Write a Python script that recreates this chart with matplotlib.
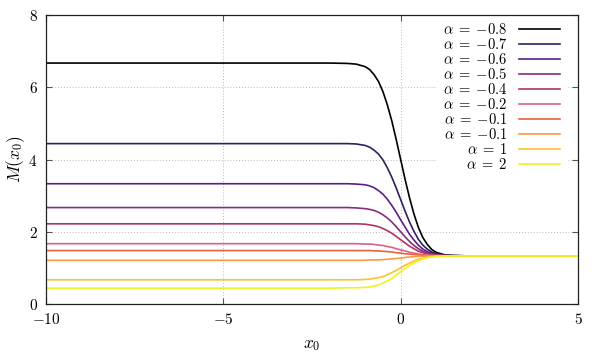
import matplotlib
matplotlib.use("Agg")
import matplotlib.pyplot as plt

plt.rcParams['mathtext.fontset'] = 'cm'
plt.rcParams['font.family'] = ['DejaVu Serif']

# sample positions along x0
x0 = [-10, -2, -1.5, -1.25, -1.0, -0.875, -0.75, -0.625, -0.5, -0.375, -0.25, -0.125,
      0, 0.125, 0.25, 0.375, 0.5, 0.625, 0.75, 0.875, 1.0, 1.25, 1.5, 2, 5]

labels = [r'$\alpha\;=\;{-0.8}$', r'$\alpha\;=\;{-0.7}$', r'$\alpha\;=\;{-0.6}$',
          r'$\alpha\;=\;{-0.5}$', r'$\alpha\;=\;{-0.4}$', r'$\alpha\;=\;{-0.2}$',
          r'$\alpha\;=\;{-0.1}$', r'$\alpha\;=\;{-0.1}$', r'$\alpha\;=\;1$', r'$\alpha\;=\;2$']

m_a08 = [6.67, 6.67, 6.66, 6.64, 6.57, 6.49, 6.35, 6.16, 5.88, 5.51, 5.07, 4.55, 4.00,
         3.45, 2.94, 2.49, 2.12, 1.84, 1.65, 1.51, 1.43, 1.36, 1.34, 1.33, 1.33]
m_a07 = [4.44, 4.44, 4.44, 4.43, 4.39, 4.34, 4.26, 4.15, 3.99, 3.77, 3.51, 3.21, 2.89,
         2.57, 2.27, 2.01, 1.79, 1.63, 1.52, 1.44, 1.39, 1.35, 1.34, 1.33, 1.33]
m_a06 = [3.33, 3.33, 3.33, 3.32, 3.30, 3.27, 3.22, 3.14, 3.04, 2.90, 2.73, 2.54, 2.33,
         2.13, 1.93, 1.77, 1.63, 1.52, 1.45, 1.40, 1.37, 1.34, 1.34, 1.33, 1.33]
m_a05 = [2.67, 2.67, 2.67, 2.66, 2.64, 2.62, 2.59, 2.54, 2.47, 2.38, 2.27, 2.14, 2.00,
         1.86, 1.73, 1.62, 1.53, 1.46, 1.41, 1.38, 1.36, 1.34, 1.33, 1.33, 1.33]
m_a04 = [2.22, 2.22, 2.22, 2.22, 2.21, 2.19, 2.17, 2.14, 2.09, 2.03, 1.96, 1.87, 1.78,
         1.69, 1.60, 1.53, 1.46, 1.42, 1.39, 1.36, 1.35, 1.34, 1.33, 1.33, 1.33]
m_a02 = [1.67, 1.67, 1.67, 1.67, 1.66, 1.66, 1.65, 1.63, 1.62, 1.59, 1.57, 1.53, 1.50,
         1.47, 1.43, 1.41, 1.38, 1.37, 1.35, 1.34, 1.34, 1.33, 1.33, 1.33, 1.33]
m_a01 = [1.48, 1.48, 1.48, 1.48, 1.48, 1.48, 1.47, 1.47, 1.46, 1.45, 1.44, 1.42, 1.41,
         1.39, 1.38, 1.37, 1.36, 1.35, 1.34, 1.34, 1.34, 1.33, 1.33, 1.33, 1.33]
m_a01b = [1.21, 1.21, 1.21, 1.21, 1.21, 1.22, 1.22, 1.22, 1.23, 1.24, 1.25, 1.26, 1.27,
          1.29, 1.30, 1.31, 1.32, 1.32, 1.33, 1.33, 1.33, 1.33, 1.33, 1.33, 1.33]
m_a1 = [0.67, 0.67, 0.67, 0.67, 0.68, 0.69, 0.71, 0.73, 0.76, 0.81, 0.87, 0.93, 1.00,
        1.07, 1.13, 1.19, 1.24, 1.27, 1.29, 1.31, 1.32, 1.33, 1.33, 1.33, 1.33]
m_a2 = [0.44, 0.44, 0.45, 0.45, 0.46, 0.47, 0.50, 0.53, 0.58, 0.64, 0.71, 0.80, 0.89,
        0.98, 1.07, 1.14, 1.20, 1.25, 1.28, 1.30, 1.32, 1.33, 1.33, 1.33, 1.33]

series = [m_a08, m_a07, m_a06, m_a05, m_a04, m_a02, m_a01, m_a01b, m_a1, m_a2]
colors = ['#000000', '#2e2160', '#5a1f88', '#8a2a80', '#b0345e', '#d8608e',
          '#e8633f', '#f79a45', '#fbc22e', '#eef51c']

xticks = [-10, -5, 0, 5]
xticklabels = [r'$-10$', r'$-5$', r'$0$', r'$5$']
yticks = [0, 2, 4, 6, 8]
yticklabels = [r'$0$', r'$2$', r'$4$', r'$6$', r'$8$']

fig = plt.figure(figsize=(6.07, 3.54), dpi=100)
ax = fig.add_axes([0.0758, 0.1412, 0.8764, 0.8164])

for ys, c, lab in zip(series, colors, labels):
    ax.plot(x0, ys, color=c, lw=1.2, label=lab, solid_joinstyle='round')

ax.set_xlim(-10, 5)
ax.set_ylim(0, 8)
ax.set_xticks(xticks)
ax.set_xticklabels(xticklabels, fontsize=11)
ax.set_yticks(yticks)
ax.set_yticklabels(yticklabels, fontsize=11)
ax.tick_params(direction='in', length=4, width=0.8, top=True, right=True, pad=6,
               color='#555555')
for s in ax.spines.values():
    s.set_linewidth(0.9)
    s.set_color('#222222')
ax.grid(True, linestyle=(0, (1, 2)), color='#b8b8b8', lw=0.7)

ax.set_xlabel(r'$x_0$', fontsize=12.5, labelpad=6)
ax.set_ylabel(r'$M(x_0)$', fontsize=12.5, labelpad=1)

leg = ax.legend(loc='upper right', markerfirst=False, frameon=True, fontsize=10.5,
                handlelength=2.8, handletextpad=0.8, labelspacing=0.0,
                borderaxespad=0.0, borderpad=0.5, bbox_to_anchor=(0.98, 1.0))
leg.get_frame().set_edgecolor('none')
leg.get_frame().set_facecolor('white')
leg.get_frame().set_alpha(1.0)
leg.get_frame().set_boxstyle('square', pad=0)
leg.set_zorder(2.45)

fig.savefig('out.png', dpi=100)
